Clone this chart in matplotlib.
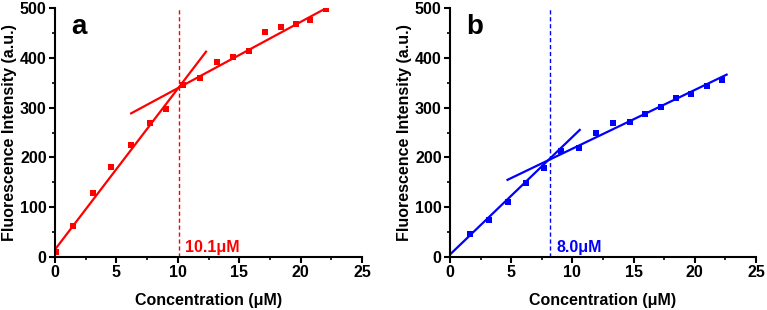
import matplotlib
matplotlib.use('Agg')
import matplotlib.pyplot as plt
import numpy as np
from matplotlib.ticker import MultipleLocator

plt.rcParams['font.family'] = ['Liberation Sans', 'DejaVu Sans']
plt.rcParams['font.weight'] = 'bold'

# concentration (uM)
conc_a = [0.1, 1.5, 3.1, 4.6, 6.2, 7.7, 9.05, 10.4, 11.8, 13.2, 14.5, 15.8, 17.1, 18.4, 19.6, 20.8, 22.1]
fl_a = [10, 62, 128, 180, 224, 270, 297, 346, 360, 391, 401, 413, 451, 461, 468, 476, 498]

conc_b = [1.6, 3.2, 4.7, 6.2, 7.7, 9.1, 10.5, 11.9, 13.3, 14.7, 15.9, 17.2, 18.5, 19.7, 21.0, 22.2]
fl_b = [47, 74, 111, 149, 179, 213, 219, 250, 270, 272, 287, 302, 320, 327, 344, 356]

# linear fits: (slope, intercept, x start, x end)
fits_a = [(32.3, 15, 0, 12.3), (13.3, 206, 6.2, 22.1)]
fits_b = [(23.6, 5, 0, 10.6), (11.8, 99.5, 4.7, 22.6)]

cross_x = [10.1, 8.2]
cross_txt = ['10.1\u03bcM', '8.0\u03bcM']
panels = ['a', 'b']
colors = ['#ff0000', '#0000ff']

fig = plt.figure(figsize=(7.67, 3.1), dpi=100)
ax_a = fig.add_axes([55/767, 1-257/310, 307/767, 249/310])
ax_b = fig.add_axes([450/767, 1-257/310, 306/767, 249/310])

for ax, xs, ys, fits, cx, ct, lab, c in zip([ax_a, ax_b], [conc_a, conc_b], [fl_a, fl_b],
                                           [fits_a, fits_b], cross_x, cross_txt, panels, colors):
    ax.plot(xs, ys, 's', color=c, ms=4.5, mew=0)
    for k, b0, x0, x1 in fits:
        xx = np.array([x0, x1])
        ax.plot(xx, k*xx + b0, '-', color=c, lw=1.6)
    ax.axvline(cx, color=c, ls=(0, (3, 2)), lw=1)
    ax.text(cx + 0.5, 20, ct, color=c, fontsize=11.5, fontweight='bold', va='center')
    ax.text(1.3, 462, lab, fontsize=20, fontweight='bold', va='center')
    ax.set_xlim(0, 25)
    ax.set_ylim(0, 500)
    ax.xaxis.set_major_locator(MultipleLocator(5))
    ax.xaxis.set_minor_locator(MultipleLocator(2.5))
    ax.yaxis.set_major_locator(MultipleLocator(100))
    ax.yaxis.set_minor_locator(MultipleLocator(50))
    ax.tick_params(which='major', direction='out', length=4, width=1.5, labelsize=11.5, pad=2)
    ax.tick_params(which='minor', direction='out', length=2.5, width=1.2)
    for s in ['top', 'right']:
        ax.spines[s].set_visible(False)
    for s in ['left', 'bottom']:
        ax.spines[s].set_linewidth(1.5)
    for t in ax.get_xticklabels() + ax.get_yticklabels():
        t.set_fontweight('bold')
    ax.set_xlabel('Concentration (\u03bcM)', fontsize=11.5, fontweight='bold', labelpad=9)
    ax.set_ylabel('Fluorescence Intensity (a.u.)', fontsize=11.5, fontweight='bold', labelpad=2)

plt.savefig('out.png', dpi=100)
